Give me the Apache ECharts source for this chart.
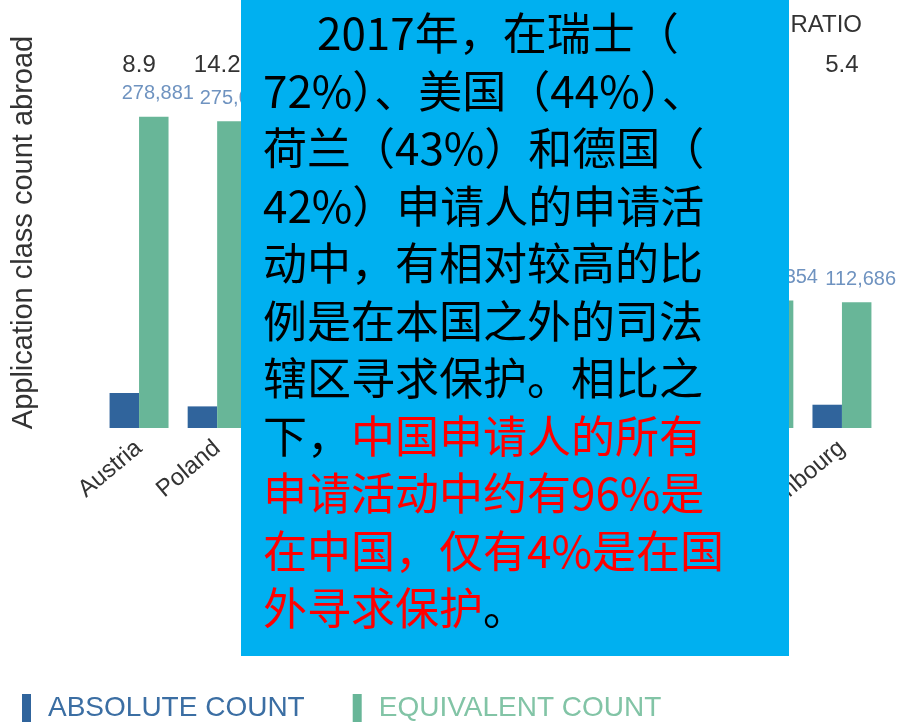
<!DOCTYPE html>
<html>
<head>
<meta charset="utf-8">
<title>Application class count abroad</title>
<script src="https://cdn.jsdelivr.net/npm/echarts@6/dist/echarts.min.js"></script>
<style>
  html, body { margin: 0; padding: 0; background: #fff; }
  #main { width: 910px; height: 722px; }
</style>
</head>
<body>
<div id="main"></div>
<script>
// categories and values (the middle ones are hidden behind the text box in the original)
var countries = ['Austria', 'Poland', 'Italy', 'Sweden', 'Denmark', 'Belgium', 'Finland', 'Norway', 'Czechia', 'Luxembourg'];
var absoluteCount = [31335, 19370, 58900, 33950, 27560, 42100, 19140, 20380, 32670, 20868];
var equivalentCount = [278881, 275046, 241520, 213870, 187400, 164210, 141600, 126330, 114354, 112686];
var ratios = ['8.9', '14.2', '4.1', '6.3', '6.8', '3.9', '7.4', '6.2', '3.5', '5.4'];

var chart = echarts.init(document.getElementById('main'));

var fontEn = 'Liberation Sans, Arial, sans-serif';
var fontCn = '"Noto Sans CJK SC", sans-serif';

var option = {
    animation: false,
    title: {
        text: 'EQUIVALENT/ABSOLUTE RATIO',
        right: 43,
        top: 8,
        textStyle: { fontFamily: fontEn, fontSize: 24, fontWeight: 'normal', color: '#333' }
    },
    legend: {
        left: 17,
        top: 689,
        icon: 'rect',
        itemWidth: 9,
        itemHeight: 28,
        itemGap: 48,
        data: [
            { name: 'ABSOLUTE COUNT', textStyle: { color: '#3b6ea3' } },
            { name: 'EQUIVALENT COUNT', textStyle: { color: '#82c4a6' } }
        ],
        textStyle: { fontFamily: fontEn, fontSize: 28, padding: [0, 0, 0, 12] }
    },
    grid: {
        left: 100,
        right: 29,
        top: 71,
        bottom: 294
    },
    xAxis: [
        {
            type: 'category',
            data: countries,
            axisLine: { show: false },
            axisTick: { show: false },
            axisLabel: {
                interval: 0,
                rotate: 40,
                margin: 17,
                fontFamily: fontEn,
                fontSize: 24,
                color: '#333'
            }
        },
        {
            type: 'category',
            position: 'top',
            data: ratios,
            axisLine: { show: false },
            axisTick: { show: false },
            axisLabel: {
                interval: 0,
                margin: -6,
                fontFamily: fontEn,
                fontSize: 24,
                color: '#333'
            }
        }
    ],
    yAxis: {
        type: 'value',
        min: 0,
        max: 320000,
        name: 'Application class count abroad',
        nameLocation: 'middle',
        nameGap: 62,
        nameTextStyle: { fontFamily: fontEn, fontSize: 29, color: '#333', padding: [0, 0, 0, 34] },
        axisLine: { show: false },
        axisTick: { show: false },
        axisLabel: { show: false },
        splitLine: { show: false }
    },
    series: [
        {
            name: 'ABSOLUTE COUNT',
            type: 'bar',
            data: absoluteCount,
            barGap: '0%',
            barCategoryGap: '24.5%',
            itemStyle: { color: '#30649c' }
        },
        {
            name: 'EQUIVALENT COUNT',
            type: 'bar',
            data: equivalentCount,
            itemStyle: { color: '#68b698' },
            label: {
                show: true,
                position: 'top',
                distance: 13,
                offset: [4, 0],
                fontFamily: fontEn,
                fontSize: 20,
                color: '#6f93c0',
                formatter: function (p) {
                    return p.value.toLocaleString('en-US');
                }
            }
        }
    ],
    graphic: [
        {
            type: 'rect',
            z: 100,
            shape: { x: 241, y: -5, width: 548, height: 661 },
            style: { fill: '#00b0f0' }
        },
        {
            type: 'text',
            z: 101,
            x: 263,
            y: 5,
            style: {
                text: '{ind| }{k|2017年，在瑞士（}\n' +
                      '{k|72%）、美国（44%）、}\n' +
                      '{k|荷兰（43%）和德国（}\n' +
                      '{k|42%）申请人的申请活}\n' +
                      '{k|动中，有相对较高的比}\n' +
                      '{k|例是在本国之外的司法}\n' +
                      '{k|辖区寻求保护。相比之}\n' +
                      '{k|下，}{r|中国申请人的所有}\n' +
                      '{r|申请活动中约有96%是}\n' +
                      '{r|在中国，仅有4%是在国}\n' +
                      '{r|外寻求保护}{k|。}',
                fontFamily: fontCn,
                fontSize: 44,
                lineHeight: 57.5,
                rich: {
                    ind: { width: 54, fontSize: 44, lineHeight: 57.5, fontFamily: fontCn },
                    k: { fill: '#000', fontSize: 44, lineHeight: 57.5, fontFamily: fontCn },
                    r: { fill: '#ff0000', fontSize: 44, lineHeight: 57.5, fontFamily: fontCn }
                }
            }
        }
    ]
};

chart.setOption(option);
</script>
</body>
</html>
